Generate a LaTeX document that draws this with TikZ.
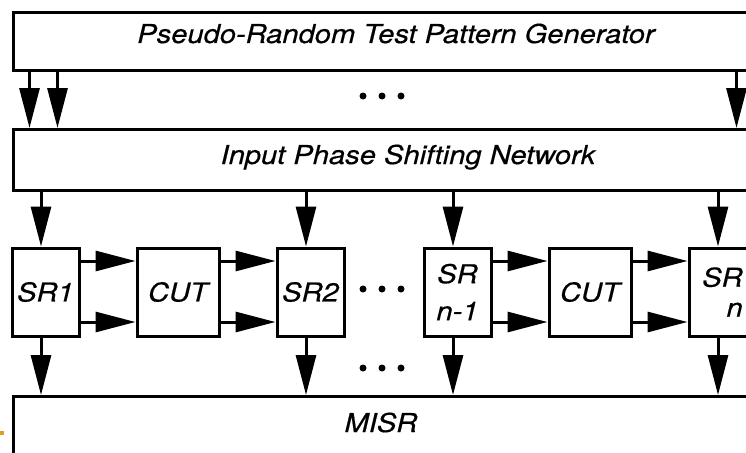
\documentclass[tikz,border=0pt]{standalone}
\usepackage{fontspec}
\setmainfont{TeX Gyre Heros}[FakeStretch=1.12,FakeBold=0.5]
\usetikzlibrary{arrows.meta}
\definecolor{slidemark}{RGB}{222,160,30}

\begin{document}
\begin{tikzpicture}[x=1pt, y=-1pt, line width=3pt,
  every node/.style={font=\fontsize{26}{30}\selectfont\itshape},
  bar/.style={draw, anchor=north west, inner sep=0pt},
  reg/.style={draw, minimum width=67pt, minimum height=88pt, inner sep=0pt, align=center},
  cut/.style={draw, minimum width=82pt, minimum height=88pt, inner sep=0pt},
  feed/.style={-{Triangle[length=40pt,width=20pt]}}]
  \useasboundingbox (0,0) rectangle (746,452);
  \clip (0,0) rectangle (746,452);

  % the three wide bars
  \node[bar, minimum width=780pt, minimum height=58pt] (prpg) at (12,11) {};
  \node[bar, minimum width=780pt, minimum height=61pt] (psn) at (12,128) {};
  \node[bar, minimum width=780pt, minimum height=80pt] (misr) at (12,395) {};
  \node[anchor=base] (prpgtxt) at (396,43) {Pseudo-Random Test Pattern Generator};
  \node[anchor=base] (psntxt) at (408,164) {Input Phase Shifting Network};
  \node[anchor=base] (misrtxt) at (381,432) {MISR};

  % shift registers and circuits under test
  \node[reg] (sr1) at (45.5,292) {SR1};
  \node[cut] (cut1) at (178,292) {CUT};
  \node[reg] (sr2) at (310.5,292) {SR2};
  \node[reg] (srm) at (457.5,292) {SR\\[7pt]n-1};
  \node[cut] (cut2) at (590,292) {CUT};
  \node[reg, align=right] (srn) at (722.5,292) {SR\\n};

  % generator to phase shifter
  \draw[feed] ([xshift=-374pt]prpg.south) -- ([xshift=-374pt]psn.north);
  \draw[feed] ([xshift=-346pt]prpg.south) -- ([xshift=-346pt]psn.north);
  \draw[feed] ([xshift=333pt]prpg.south) -- ([xshift=333pt]psn.north);

  % phase shifter to registers, registers to MISR
  \foreach \r in {sr1,sr2,srm,srn} {
    \coordinate (in) at ([xshift=-4.5pt]\r.north);
    \coordinate (out) at ([xshift=-4.5pt]\r.south);
    \draw[feed] (psn.south -| in) -- (in);
    \draw[feed] (out) -- (misr.north -| out);
  }

  % register to CUT to register
  \foreach \a/\b in {sr1/cut1,cut1/sr2,srm/cut2,cut2/srn} {
    \draw[feed] ([yshift=31pt]\a.east) -- ([yshift=31pt]\b.west);
    \draw[feed] ([yshift=-30pt]\a.east) -- ([yshift=-30pt]\b.west);
  }

  % ellipses
  \foreach \y in {96,289,368}
    \foreach \x in {363,382,401}
      \fill (\x,\y) circle (3.5);

  \fill[slidemark] (0,431) rectangle (3.5,435);
\end{tikzpicture}
\end{document}
